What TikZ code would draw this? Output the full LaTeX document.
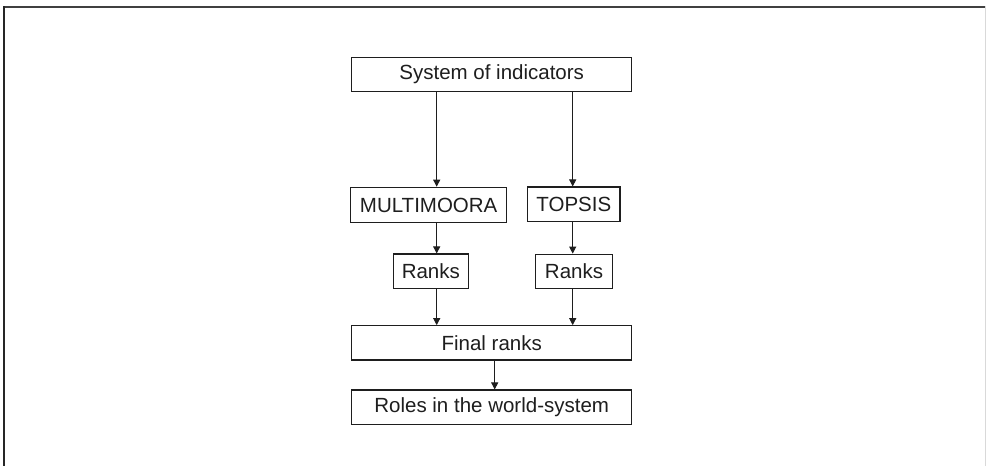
\documentclass[tikz,border=0pt]{standalone}
\usepackage{fontspec}
\setmainfont{Liberation Sans}
\usetikzlibrary{arrows.meta}
\definecolor{ink}{HTML}{1E1E1E}
\begin{document}
\begin{tikzpicture}[x=1pt,y=-1pt,
  boxnode/.style={draw=ink,line width=1.2pt,inner sep=0pt,text=ink,
    font=\fontsize{20.5}{24}\selectfont},
  arr/.style={draw=ink,line width=1pt,-{Triangle[length=7pt,width=7pt]}}]
\useasboundingbox (0,0) rectangle (986,466);
\fill[white] (0,0) rectangle (986,466);
% frame
\draw[draw=black!75,line width=2pt] (4,6.5) -- (986,6.5);
\draw[draw=black!85,line width=2pt] (4,6) -- (4,466);
\draw[draw=black!15,line width=1pt] (985,6) -- (985,466);
% column coordinates
\coordinate (cL) at (436.7,0);
\coordinate (cR) at (572.7,0);
\coordinate (cM) at (494.7,0);
% nodes
\node[boxnode,minimum width=280pt,minimum height=34.4pt] (sys) at (491.7,74.5) {System of indicators};
\node[boxnode,minimum width=156pt,minimum height=35.4pt] (mm) at (428.7,205) {MULTIMOORA};
\node[boxnode,minimum width=92.3pt,minimum height=34.3pt] (tp) at (573.8,204.2) {TOPSIS};
\node[boxnode,minimum width=75pt,minimum height=34.3pt] (rl) at (430.8,271.2) {Ranks};
\node[boxnode,minimum width=76.6pt,minimum height=34pt] (rr) at (574,271.2) {Ranks};
\node[boxnode,minimum width=280pt,minimum height=34.3pt] (fin) at (491.7,342.9) {Final ranks};
\node[boxnode,minimum width=280pt,minimum height=34.3pt] (rol) at (491.7,407.2) {Roles in the world-system};
% connectors
\draw[arr] (sys.south -| cL) -- (mm.north -| cL);
\draw[arr] (sys.south -| cR) -- (tp.north -| cR);
\draw[arr] (mm.south -| cL) -- (rl.north -| cL);
\draw[arr] (tp.south -| cR) -- (rr.north -| cR);
\draw[arr] (rl.south -| cL) -- (fin.north -| cL);
\draw[arr] (rr.south -| cR) -- (fin.north -| cR);
\draw[arr] (fin.south -| cM) -- (rol.north -| cM);
\end{tikzpicture}
\end{document}
